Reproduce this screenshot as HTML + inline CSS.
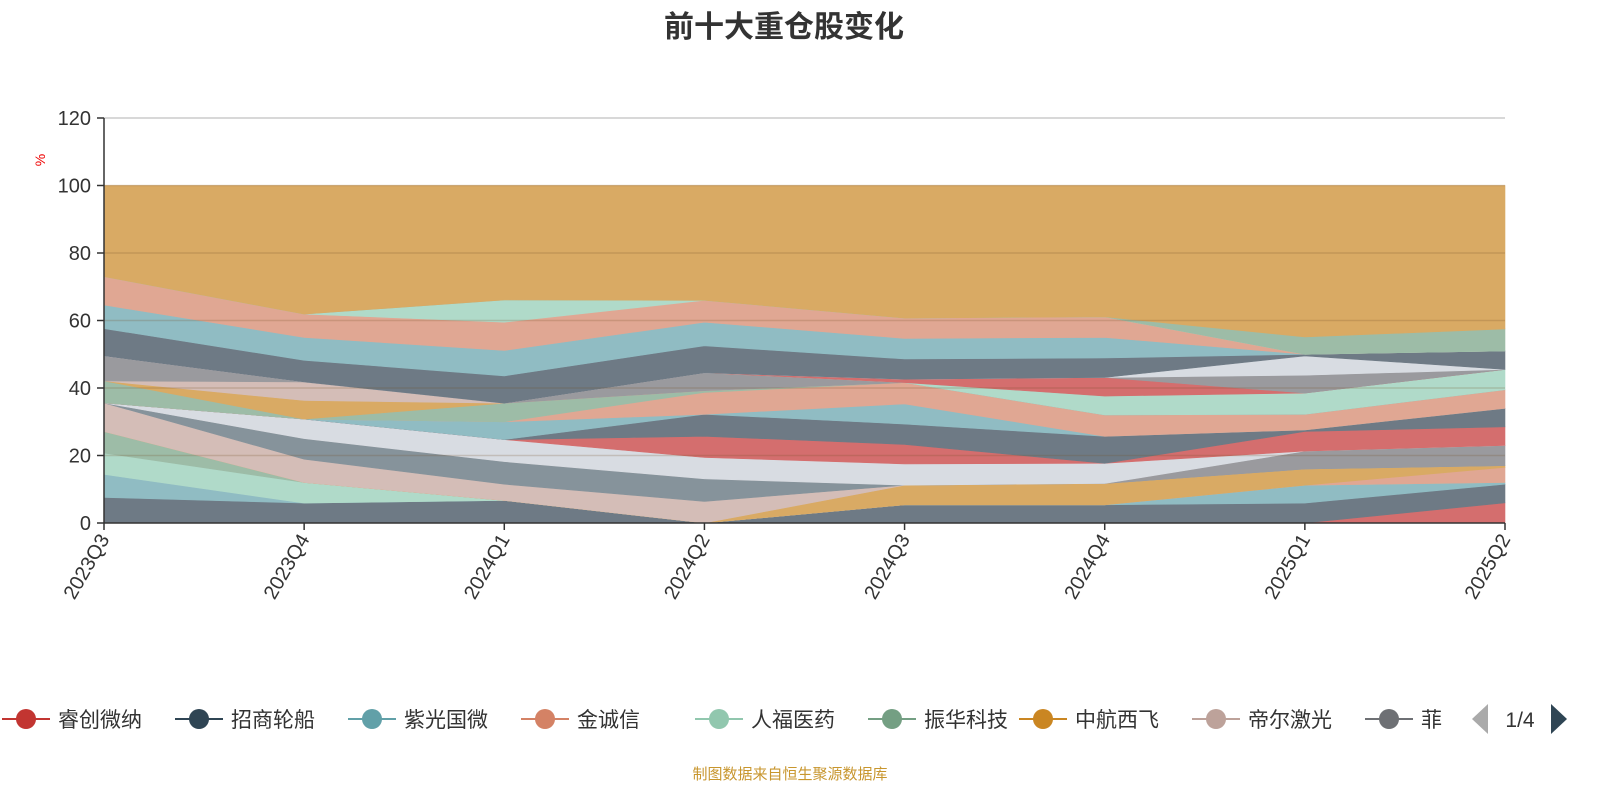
<!DOCTYPE html>
<html><head><meta charset="utf-8"><style>
body{margin:0;background:#fff;font-family:"Liberation Sans","Noto Sans CJK SC",sans-serif;}
svg{display:block}
</style></head><body>
<svg id="c" width="1600" height="800" xmlns="http://www.w3.org/2000/svg">
<text x="784" y="37" text-anchor="middle" font-size="30" font-weight="bold" fill="#333" font-family="Liberation Sans, Noto Sans CJK SC, sans-serif">前十大重仓股变化</text>
<text x="45" y="160" font-size="14" fill="#e00" text-anchor="middle" transform="rotate(-90 45 160)">%</text>
<g id="areas"></g>
<g id="axes"></g>
<g id="legend"></g>
<text x="790" y="779" text-anchor="middle" font-size="15" fill="#c8962e">制图数据来自恒生聚源数据库</text>
</svg>
<script>
const categories=["2023Q3","2023Q4","2024Q1","2024Q2","2024Q3","2024Q4","2025Q1","2025Q2"];
const yTicks=[0,20,40,60,80,100,120];
const s01=[0,0,0,0,0,0,0,6];
const s02=[7.6,5.9,6.7,0,5.4,5.4,5.9,5.5];
const s03=[6.8,0,0,0,0,0,5.3,0.5];
const s04=[6.3,6.1,0,0,0,0,0,0];
const s05=[6.4,0,0,0,0,0,0,0];
const s06=[0,0,0,0,0,0,0,4.5];
const s07=[0,0,0,0,5.8,6.3,4.8,0.5];
const s08=[8.5,6.9,4.8,6.4,0,0,0,0];
const s09=[0,6.1,6.7,6.7,0,0,0,0];
const s10=[0,0,0,0,0,0,5.3,6];
const s11=[0,5.8,6.5,6.3,6.3,6,0,0];
const s12=[0,0,0,6.3,5.8,0,5.8,5.5];
const s13=[0,0,0,6.5,6,8,0.5,5.5];
const s14=[0,0,5.3,0,6,0,0,0];
const s15=[0,0,0,6.5,6.3,6.3,4.6,5.5];
const s16=[6.5,0,5.5,0.5,0,0,0,0];
const s17=[0,5.5,0,0,0,0,0,0];
const s18=[0,5.5,0,0,0,0,0,0];
const s19=[7.4,0,0,5.3,0,0,0,0];
const s20=[0,0,0,0,0,5.6,6.3,6];
const s21=[0,0,0,0,1,5.5,0,0];
const s22=[0,0,0,0,0,0,5.3,0];
const s23=[0,0,0,0,0,0,5.7,0];
const s24=[8.1,6.4,8.1,8,6,5.8,0.5,5.5];
const s25=[7,6.8,7.5,7,6.1,6.1,0,0];
const s26=[8.4,6.9,8.4,6.5,6,6.1,0,0];
const s27=[0,0,6.6,0,0,0,0,0];
const s28=[0,0,0,0,0,0,5.1,6.5];
const s29=[27,38.1,33.9,34,39.3,38.9,44.9,42.5];
const seriesList=[s01,s02,s03,s04,s05,s06,s07,s08,s09,s10,s11,s12,s13,s14,s15,s16,s17,s18,s19,s20,s21,s22,s23,s24,s25,s26,s27,s28,s29];
const colors=["#d46e6e","#6e7a85","#90bcc3","#b0dac9","#9dbca7","#e0a793","#d9aa64","#d4bdb7","#86939b","#9a9a9e","#d8dce2","#d46e6e","#6e7a85","#90bcc3","#e0a793","#9dbca7","#d9aa64","#d4bdb7","#9a9a9e","#b0dac9","#d46e6e","#9a9a9e","#d8dce2","#6e7a85","#90bcc3","#e0a793","#b0dac9","#9dbca7","#d9aa64"];
const legendNames=["睿创微纳","招商轮船","紫光国微","金诚信","人福医药","振华科技","中航西飞","帝尔激光","菲利华"];
const legendColors=["#c23531","#2f4554","#61a0a8","#d48265","#91c7ae","#749f83","#ca8622","#bda29a","#6e7074"];
const NS="http://www.w3.org/2000/svg";
const X0=104,X1=1505,Y0=523,YT=118;
const xs=i=>X0+(X1-X0)*i/(categories.length-1);
const ys=v=>Y0-(Y0-YT)*v/120;
const areas=document.getElementById('areas');
let base=categories.map(()=>0);
seriesList.forEach((s,k)=>{
  const top=base.map((b,i)=>b+s[i]);
  let d="M"+top.map((v,i)=>xs(i).toFixed(1)+","+ys(v).toFixed(1)).join("L");
  for(let i=categories.length-1;i>=0;i--) d+="L"+xs(i).toFixed(1)+","+ys(base[i]).toFixed(1);
  d+="Z";
  const p=document.createElementNS(NS,'path');
  p.setAttribute('d',d);p.setAttribute('fill',colors[k]);p.setAttribute('stroke',colors[k]);p.setAttribute('stroke-width','0.6');
  
  
  areas.appendChild(p);
  base=top;
});
const axes=document.getElementById('axes');
yTicks.forEach(t=>{
  const y=ys(t);
  if(t>0){const g=document.createElementNS(NS,'line');
  g.setAttribute('x1',X0);g.setAttribute('x2',X1);g.setAttribute('y1',y);g.setAttribute('y2',y);
  g.setAttribute('stroke',t===120?'#ccc':'rgba(120,80,40,0.22)');g.setAttribute('stroke-width','1.5');
  
  
  axes.appendChild(g);}
  const tk=document.createElementNS(NS,'line');
  tk.setAttribute('x1',X0-7);tk.setAttribute('x2',X0);tk.setAttribute('y1',y);tk.setAttribute('y2',y);tk.setAttribute('stroke','#333');tk.setAttribute('stroke-width','1.5');
  
  
  axes.appendChild(tk);
  const tx=document.createElementNS(NS,'text');
  tx.setAttribute('x',X0-13);tx.setAttribute('y',y+7);tx.setAttribute('text-anchor','end');tx.setAttribute('font-size','20');tx.setAttribute('fill','#333');
  tx.textContent=t;
  
  
  axes.appendChild(tx);
});
const ya=document.createElementNS(NS,'line');
ya.setAttribute('x1',X0);ya.setAttribute('x2',X0);ya.setAttribute('y1',YT);ya.setAttribute('y2',Y0);ya.setAttribute('stroke','#333');ya.setAttribute('stroke-width','1.5');


axes.appendChild(ya);
const xa=document.createElementNS(NS,'line');
xa.setAttribute('x1',X0);xa.setAttribute('x2',X1);xa.setAttribute('y1',Y0);xa.setAttribute('y2',Y0);xa.setAttribute('stroke','#333');xa.setAttribute('stroke-width','1.5');


axes.appendChild(xa);
categories.forEach((c,i)=>{
  const x=xs(i);
  const tk=document.createElementNS(NS,'line');
  tk.setAttribute('x1',x);tk.setAttribute('x2',x);tk.setAttribute('y1',Y0);tk.setAttribute('y2',Y0+7);tk.setAttribute('stroke','#333');tk.setAttribute('stroke-width','1.5');
  
  
  axes.appendChild(tk);
  const tx=document.createElementNS(NS,'text');
  tx.setAttribute('x',x+6);tx.setAttribute('y',Y0+16);tx.setAttribute('text-anchor','end');tx.setAttribute('font-size','20');tx.setAttribute('fill','#333');
  tx.setAttribute('transform','rotate(-60 '+(x+6)+' '+(Y0+16)+')');
  tx.textContent=c;
  
  
  axes.appendChild(tx);
});
const lg=document.getElementById('legend');
legendNames.forEach((n,i)=>{
  const cx=[26,199,372,545,719,892,1043,1216,1389][i];
  const g=document.createElementNS(NS,'g');
  
  
  const l=document.createElementNS(NS,'line');
  l.setAttribute('x1',cx-24);l.setAttribute('x2',cx+24);l.setAttribute('y1',719);l.setAttribute('y2',719);l.setAttribute('stroke',legendColors[i]);l.setAttribute('stroke-width','2');
  g.appendChild(l);
  const ci=document.createElementNS(NS,'circle');
  ci.setAttribute('cx',cx);ci.setAttribute('cy',719);ci.setAttribute('r',10);ci.setAttribute('fill',legendColors[i]);
  g.appendChild(ci);
  const t=document.createElementNS(NS,'text');
  t.setAttribute('x',cx+32);t.setAttribute('y',727);t.setAttribute('font-size','21');t.setAttribute('fill','#333');
  t.textContent=n;
  g.appendChild(t);
  lg.appendChild(g);
});
const clip=document.createElementNS(NS,'rect');
clip.setAttribute('x',1442);clip.setAttribute('y',700);clip.setAttribute('width',158);clip.setAttribute('height',40);clip.setAttribute('fill','#fff');
lg.appendChild(clip);
const pl=document.createElementNS(NS,'path');
pl.setAttribute('d','M1472,719L1488,704L1488,734Z');pl.setAttribute('fill','#aaa');


lg.appendChild(pl);
const pt=document.createElementNS(NS,'text');
pt.setAttribute('x',1520);pt.setAttribute('y',727);pt.setAttribute('text-anchor','middle');pt.setAttribute('font-size','21');pt.setAttribute('fill','#333');
pt.textContent='1/4';


lg.appendChild(pt);
const pr=document.createElementNS(NS,'path');
pr.setAttribute('d','M1551,704L1567,719L1551,734Z');pr.setAttribute('fill','#2f4554');


lg.appendChild(pr);
</script>
</body></html>
